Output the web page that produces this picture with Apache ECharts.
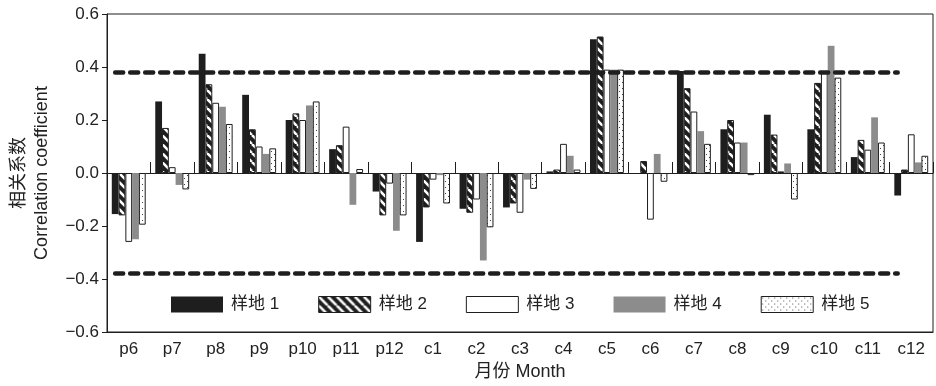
<!DOCTYPE html>
<html>
<head>
<meta charset="utf-8">
<script src="https://cdn.jsdelivr.net/npm/echarts@6/dist/echarts.min.js"></script>
<style>
html,body{margin:0;padding:0;background:#fff;}
#chart{width:936px;height:386px;}
</style>
</head>
<body>
<div id="chart"></div>
<script>
const months = ['p6','p7','p8','p9','p10','p11','p12','c1','c2','c3','c4','c5','c6','c7','c8','c9','c10','c11','c12'];
const seriesNames = ['样地 1','样地 2','样地 3','样地 4','样地 5'];
const site1 = [-0.155, 0.27, 0.45, 0.295, 0.2, 0.09, -0.07, -0.26, -0.135, -0.13, 0.006, 0.505, 0, 0.385, 0.165, 0.22, 0.165, 0.06, -0.085];
const site2 = [-0.16, 0.17, 0.335, 0.165, 0.225, 0.105, -0.16, -0.13, -0.15, -0.115, 0.013, 0.515, 0.045, 0.32, 0.2, 0.145, 0.34, 0.125, 0.013];
const site3 = [-0.26, 0.022, 0.265, 0.1, 0.2, 0.175, -0.04, -0.025, -0.1, -0.15, 0.11, 0.39, -0.176, 0.232, 0.115, 0.006, 0.38, 0.088, 0.146];
const site4 = [-0.25, -0.045, 0.25, 0.072, 0.255, -0.12, -0.218, -0.008, -0.33, -0.025, 0.065, 0.39, 0.072, 0.158, 0.115, 0.036, 0.48, 0.21, 0.04];
const site5 = [-0.195, -0.062, 0.185, 0.093, 0.27, 0.015, -0.16, -0.115, -0.205, -0.06, 0.013, 0.39, -0.033, 0.11, -0.008, -0.1, 0.36, 0.115, 0.065];
const threshold = 0.38;
const yTicks = [-0.6, -0.4, -0.2, 0.0, 0.2, 0.4, 0.6];

const INK = '#1e1e1e';
const TXT = '#222';
const FONT = '"Liberation Sans", Arial, "Noto Sans CJK SC", sans-serif';

function hatchPattern() {
  const s = 9;
  const c = document.createElement('canvas');
  c.width = s; c.height = s;
  const g = c.getContext('2d');
  g.fillStyle = INK; g.fillRect(0, 0, s, s);
  g.strokeStyle = '#ffffff'; g.lineWidth = 2.6;
  for (const o of [-s, 0, s]) {
    g.beginPath(); g.moveTo(o, 0); g.lineTo(o + s, s); g.stroke();
  }
  return { image: c, repeat: 'repeat' };
}
function dotPattern() {
  const s = 6;
  const c = document.createElement('canvas');
  c.width = s; c.height = s;
  const g = c.getContext('2d');
  g.fillStyle = '#ffffff'; g.fillRect(0, 0, s, s);
  g.fillStyle = '#444';
  g.fillRect(1, 1, 1, 1); g.fillRect(4, 4, 1, 1);
  return { image: c, repeat: 'repeat' };
}

const styles = [
  { color: INK, borderColor: INK, borderWidth: 0 },
  { color: hatchPattern(), borderColor: INK, borderWidth: 1 },
  { color: '#ffffff', borderColor: INK, borderWidth: 1 },
  { color: '#8c8c8c', borderColor: '#8c8c8c', borderWidth: 0 },
  { color: dotPattern(), borderColor: INK, borderWidth: 1 }
];
const values = [site1, site2, site3, site4, site5];

const chart = echarts.init(document.getElementById('chart'), null, { renderer: 'canvas' });

const series = values.map((v, i) => ({
  name: seriesNames[i],
  type: 'bar',
  data: v,
  barGap: '0%',
  barCategoryGap: '22%',
  itemStyle: styles[i],
  emphasis: { disabled: true },
  animation: false
}));
series[0].markLine = {
  silent: true,
  symbol: 'none',
  label: { show: false },
  lineStyle: { color: INK, width: 4.5, type: [8, 7], cap: 'round' },
  data: [
    [{ xAxis: months[0], yAxis: threshold }, { xAxis: months[months.length - 1], yAxis: threshold }],
    [{ xAxis: months[0], yAxis: -threshold }, { xAxis: months[months.length - 1], yAxis: -threshold }]
  ]
};

chart.setOption({
  animation: false,
  textStyle: { fontFamily: FONT },
  grid: { left: 105, right: 3, top: 14, bottom: 54, show: true, borderColor: INK, borderWidth: 1, backgroundColor: 'transparent' },
  legend: {
    left: 166, top: 291,
    itemWidth: 52, itemHeight: 16, itemGap: 39,
    icon: 'rect',
    selectedMode: false,
    textStyle: { fontSize: 17, color: TXT, fontFamily: FONT, padding: [0, 0, 0, 3] },
    data: seriesNames.map((n, i) => ({ name: n, itemStyle: { borderWidth: styles[i].borderWidth, borderColor: styles[i].borderColor } }))
  },
  xAxis: [
    {
      type: 'category', data: months, position: 'bottom',
      axisLine: { show: true, onZero: false, lineStyle: { color: INK, width: 1 } },
      axisTick: { show: false },
      axisLabel: { fontSize: 17, color: TXT, margin: 9, fontFamily: FONT },
      name: '月份 Month', nameLocation: 'middle', nameGap: 29,
      nameTextStyle: { fontSize: 18, color: TXT, fontFamily: FONT }
    },
    {
      type: 'category', data: months, position: 'bottom',
      axisLine: { show: true, onZero: true, onZeroAxisIndex: 0, lineStyle: { color: INK, width: 1 } },
      axisTick: { show: true, inside: true, length: 11, lineStyle: { color: INK, width: 1 } },
      axisLabel: { show: false }
    }
  ],
  yAxis: {
    type: 'value', min: -0.6, max: 0.6, interval: 0.2,
    axisLine: { show: true, lineStyle: { color: INK, width: 1 } },
    axisTick: { show: true, inside: false, length: 5, lineStyle: { color: INK } },
    splitLine: { show: false },
    axisLabel: {
      fontSize: 17, color: TXT, margin: 8, fontFamily: FONT,
      customValues: yTicks,
      formatter: v => v.toFixed(1).replace('-', '\u2212').replace('\u22120.0', '0.0')
    },
    name: '相关系数\nCorrelation coefficient',
    nameLocation: 'middle', nameRotate: 90, nameGap: 54,
    nameTextStyle: { fontSize: 18, color: TXT, lineHeight: 22.5, fontFamily: FONT }
  },
  series: series
});
</script>
</body>
</html>
